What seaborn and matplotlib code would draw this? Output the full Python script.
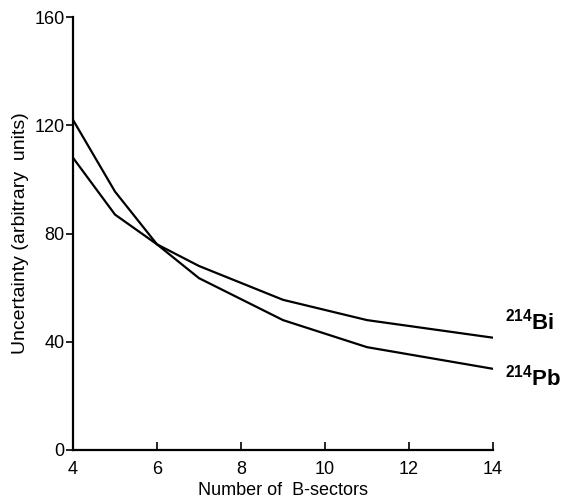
import pandas as pd
import seaborn as sns
import matplotlib
matplotlib.use("Agg")
import matplotlib.pyplot as plt

# values
sectores = [4, 5, 6, 7, 9, 11, 14]
incerteza_bi = [108, 87, 76, 68, 55.5, 48, 41.5]
incerteza_pb = [122, 95.5, 76, 63.5, 48, 38, 30]
rotulos = ["$\\mathbf{^{214}Bi}$", "$\\mathbf{^{214}Pb}$"]

dados = pd.DataFrame({
    "setores": sectores * 2,
    "incerteza": incerteza_bi + incerteza_pb,
    "isotopo": ["Bi"] * len(sectores) + ["Pb"] * len(sectores),
})

sns.set_style("ticks")
plt.rcParams["font.family"] = ["Liberation Sans", "DejaVu Sans"]
plt.rcParams["mathtext.fontset"] = "custom"
plt.rcParams["mathtext.rm"] = "Liberation Sans"
plt.rcParams["mathtext.bf"] = "Liberation Sans:bold"
plt.rcParams["text.color"] = "black"
plt.rcParams["axes.labelcolor"] = "black"
plt.rcParams["xtick.color"] = "black"
plt.rcParams["ytick.color"] = "black"
plt.rcParams["axes.edgecolor"] = "black"

fig = plt.figure(figsize=(5.68, 5.01), dpi=100)
ax = fig.add_axes([0.1285, 0.1018, 0.7395, 0.8642])

sns.lineplot(
    x="setores", y="incerteza", data=dados, units="isotopo", estimator=None,
    color="black", linewidth=1.6, ax=ax, legend=False,
)

ax.set_xlim(4, 14)
ax.set_ylim(0, 160)
ax.set_xticks([4, 6, 8, 10, 12, 14])
ax.set_yticks([0, 40, 80, 120, 160])
ax.tick_params(axis="x", direction="in", length=6, width=1.2, pad=8, labelsize=13)
ax.tick_params(axis="y", direction="out", length=5, width=1.2, pad=1, labelsize=13)
sns.despine(ax=ax)
for lado in ["left", "bottom"]:
    ax.spines[lado].set_linewidth(1.6)

ax.set_xlabel("Number of  B-sectors", fontsize=13, labelpad=3)
ax.set_ylabel("Uncertainty (arbitrary  units)", fontsize=14, labelpad=4)

# isotope labels to the right of the curve ends
ax.text(14.28, 47.4, rotulos[0], fontsize=16, ha="left", va="center",
        clip_on=False)
ax.text(14.28, 26.6, rotulos[1], fontsize=16, ha="left", va="center",
        clip_on=False)

fig.savefig("out.png", dpi=100)
